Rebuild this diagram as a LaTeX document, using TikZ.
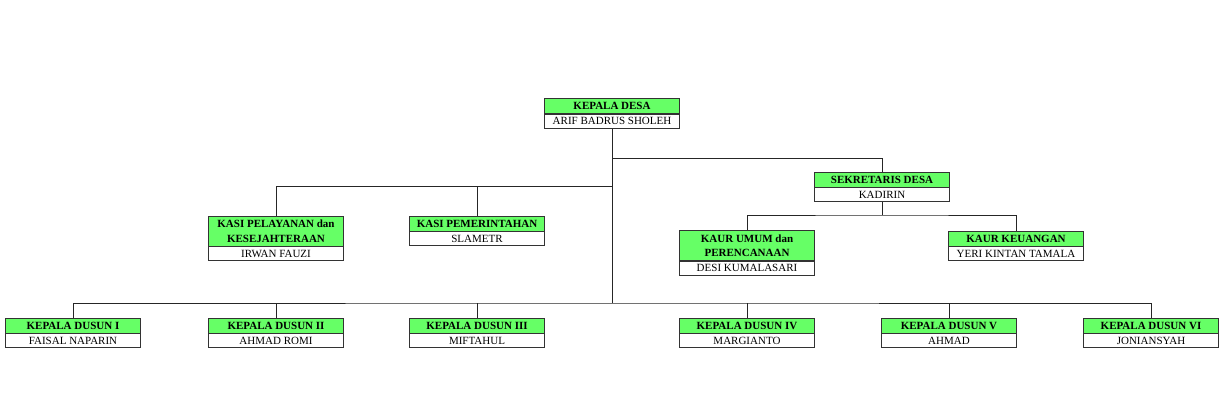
\documentclass[tikz,border=0pt]{standalone}
\usepackage{fontspec}
\setmainfont{Liberation Serif}
\usetikzlibrary{positioning}
\definecolor{hijau}{RGB}{102,255,102}
\tikzset{
  jabatan/.style={draw=black!80, line width=0.8pt, fill=hijau, minimum width=135pt, minimum height=15pt,
    inner sep=0pt, align=center, font=\fontsize{11}{14.5}\selectfont\bfseries},
  nama/.style={draw=black!80, line width=0.8pt, fill=white, minimum width=135pt, minimum height=14pt,
    inner sep=0pt, font=\fontsize{11}{12}\selectfont},
  garis/.style={draw=black!85, line width=0.7pt}
}
\begin{document}
\begin{tikzpicture}[x=1pt,y=-1pt]
\useasboundingbox (0,0) rectangle (1228,410);

% kepala desa
\node[jabatan] (kades) at (612,106) {KEPALA DESA};
\node[nama, below=0pt of kades] (namakades) {ARIF BADRUS SHOLEH};

% sekretaris desa
\node[jabatan] (sekdes) at (882,179.5) {SEKRETARIS DESA};
\node[nama, below=0pt of sekdes] (namasekdes) {KADIRIN};

% kasi
\node[jabatan, minimum height=30pt] (kasipel) at (276,231) {KASI PELAYANAN dan\\KESEJAHTERAAN};
\node[nama, below=0pt of kasipel] (namakasipel) {IRWAN FAUZI};
\node[jabatan] (kasipem) at (477,223.5) {KASI PEMERINTAHAN};
\node[nama, below=0pt of kasipem] (namakasipem) {SLAMETR};

% kaur
\node[jabatan, minimum height=30pt] (kaurumum) at (747,245.5) {KAUR UMUM dan\\PERENCANAAN};
\node[nama, below=0pt of kaurumum] (namakaurumum) {DESI KUMALASARI};
\node[jabatan] (kaurkeu) at (1016,238.5) {KAUR KEUANGAN};
\node[nama, below=0pt of kaurkeu] (namakaurkeu) {YERI KINTAN TAMALA};

% kepala dusun
\foreach \x/\no/\nm [count=\i] in {73/I/FAISAL NAPARIN, 276/II/AHMAD ROMI,
    477/III/MIFTAHUL, 747/IV/MARGIANTO, 949/V/AHMAD, 1151/VI/JONIANSYAH} {
  \node[jabatan] (dusun\i) at (\x,325.5) {KEPALA DUSUN \no};
  \node[nama, below=0pt of dusun\i] (namadusun\i) {\nm};
}

% garis
\coordinate (cabang1) at (612,158);
\coordinate (cabang2) at (612,186);
\coordinate (cabang3) at (612,303);
\coordinate (cabang4) at (882,215);
\draw[garis] (namakades.south) -- (cabang3);
\draw[garis] (cabang1) -| (sekdes.north);
\draw[garis] (kasipel.north) |- (cabang2);
\draw[garis] (kasipem.north) -- (kasipem.north |- cabang2);
\draw[garis] (namasekdes.south) -- (cabang4);
\draw[garis] (kaurumum.north) |- (cabang4) -| (kaurkeu.north);
\draw[garis] (dusun1.north) |- (cabang3) -| (dusun6.north);
\foreach \i in {2,...,5} {
  \draw[garis] (dusun\i.north) -- (dusun\i.north |- cabang3);
}

\end{tikzpicture}
\end{document}
